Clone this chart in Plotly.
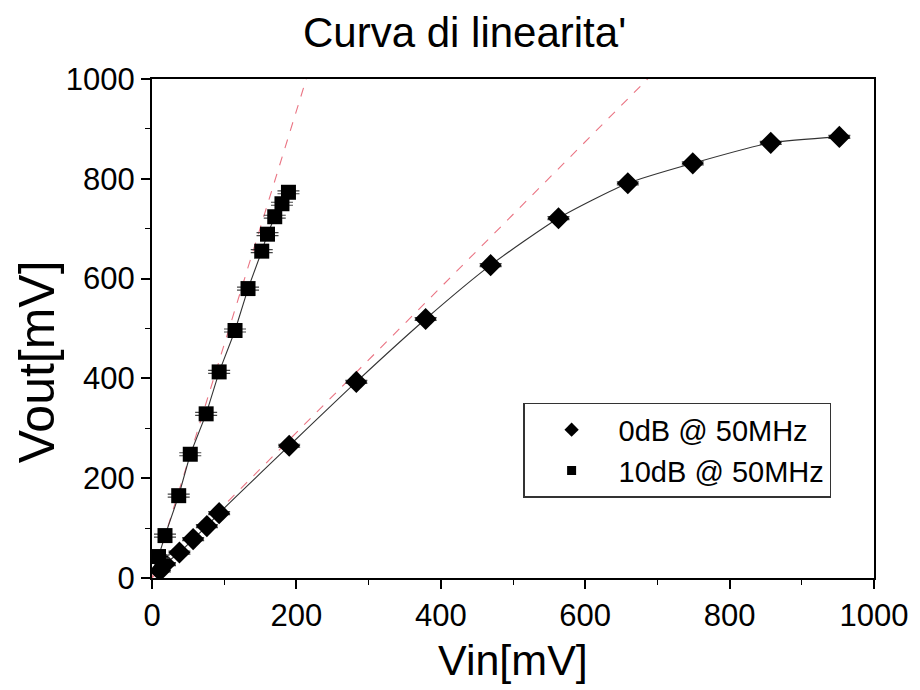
import plotly.graph_objects as go

# Measured transfer curves (input vs output amplitude, mV)
vin_0db = [11, 18, 38, 57, 76, 93, 190, 283, 379, 469, 563, 659, 749, 857, 952]
vout_0db = [15, 28, 51, 78, 104, 130, 265, 393, 519, 627, 721, 791, 831, 872, 884]
err_0db = [3] * len(vin_0db)

vin_10db = [9, 18, 37, 53, 75, 93, 115, 133, 152, 160, 170, 180, 189]
vout_10db = [43, 85, 165, 248, 329, 413, 496, 580, 655, 689, 724, 750, 773]
err_10db = [3] * len(vin_10db)

# Linear fits (slope, intercept) of the low-signal region
fit_10db = (4.68, 0.0)
fit_0db = (1.457, 0.0)

labels = ["0dB @ 50MHz", "10dB @ 50MHz"]
title_text = "Curva di linearita'"
x_label = "Vin[mV]"
y_label = "Vout[mV]"

FONT = "Liberation Sans, Arial, Helvetica, sans-serif"

fig = go.Figure()

for slope, icpt, xmax in [(fit_10db[0], fit_10db[1], 300), (fit_0db[0], fit_0db[1], 1000)]:
    xs = [0, xmax]
    fig.add_trace(go.Scatter(
        x=xs, y=[icpt + slope * v for v in xs], mode="lines",
        line=dict(color="#ea7483", width=1.1, dash="dash"),
        showlegend=False, hoverinfo="skip"))

fig.add_trace(go.Scatter(
    x=vin_0db, y=vout_0db, mode="lines+markers",
    line=dict(color="#333333", width=1.1, shape="spline", smoothing=0.6),
    marker=dict(symbol="diamond", size=17, color="black"),
    error_y=dict(type="data", array=err_0db, width=11, thickness=1.2, color="#444444"),
    showlegend=False))

fig.add_trace(go.Scatter(
    x=vin_10db, y=vout_10db, mode="lines+markers",
    line=dict(color="#333333", width=1.1),
    marker=dict(symbol="square", size=15, color="black"),
    error_y=dict(type="data", array=err_10db, width=11, thickness=1.2, color="#444444"),
    showlegend=False))

# Legend entries drawn as markers only
for sym, sz, name in [("diamond", 11, labels[0]), ("square", 9, labels[1])]:
    fig.add_trace(go.Scatter(
        x=[None], y=[None], mode="markers", name=name,
        marker=dict(symbol=sym, size=sz, color="black")))

axis_common = dict(
    showgrid=False, zeroline=False, showline=True, linecolor="black", linewidth=2,
    mirror=True, ticks="outside", ticklen=9, tickwidth=1.5, tickcolor="black",
    dtick=200, tickfont=dict(family=FONT, size=31, color="black"),
    minor=dict(dtick=100, ticks="outside", ticklen=5, tickwidth=1.2, tickcolor="black"),
)

fig.update_layout(
    width=920, height=690,
    margin=dict(l=152, r=38, t=79, b=112),
    paper_bgcolor="white", plot_bgcolor="white",
    font=dict(family=FONT, color="black"),
    title=dict(text=title_text, x=0.505, xanchor="center", y=1 - 32 / 690,
               yanchor="middle", yref="container",
               font=dict(family=FONT, size=42, color="black")),
    xaxis=dict(range=[0, 1000], **axis_common),
    yaxis=dict(range=[0, 1000], **axis_common),
    legend=dict(x=0.514, y=0.351, xanchor="left", yanchor="top",
                bordercolor="#333333", borderwidth=1.5, bgcolor="white",
                font=dict(family=FONT, size=29, color="black"),
                itemwidth=84, tracegroupgap=4),
    annotations=[
        dict(text=x_label, xref="paper", yref="paper", x=0.5,
             y=-(660 - 578) / 499, xanchor="center", yanchor="middle",
             showarrow=False, font=dict(family=FONT, size=43, color="black")),
        dict(text=y_label, xref="paper", yref="paper", x=-(152 - 36) / 730,
             y=(578 - 362) / 499, xanchor="center", yanchor="middle",
             showarrow=False, textangle=-90,
             font=dict(family=FONT, size=50, color="black")),
    ],
)

fig.write_html("out.html")
